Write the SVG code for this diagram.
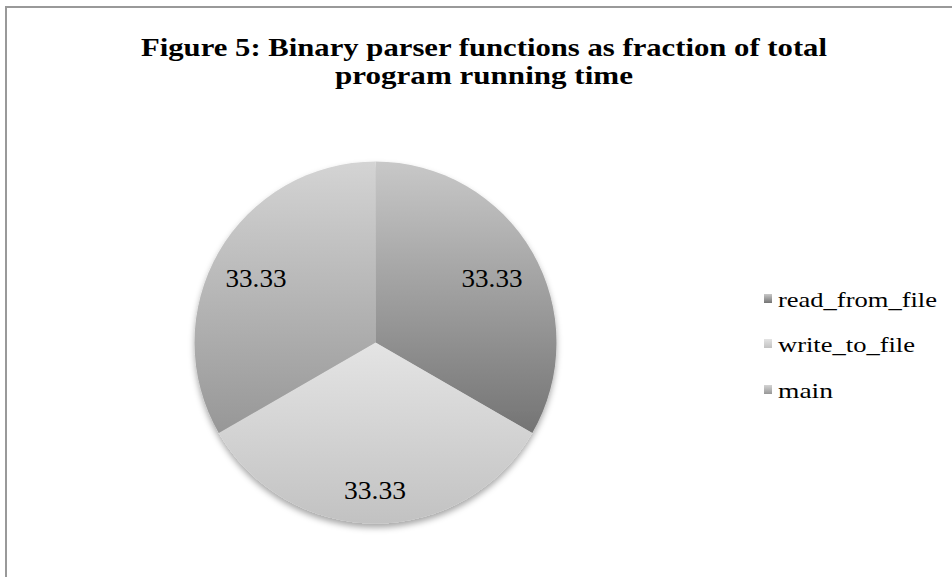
<svg xmlns="http://www.w3.org/2000/svg" width="952" height="577" viewBox="0 0 952 577">
  <style>
    .title { font-family: "Liberation Serif", "Times New Roman", serif; font-weight: bold; font-size: 25px; fill: #000; text-anchor: middle; }
    .val { font-family: "Liberation Serif", "Times New Roman", serif; font-size: 25px; fill: #000; text-anchor: middle; }
    .leg { font-family: "Liberation Serif", "Times New Roman", serif; font-size: 21px; fill: #000; }
  </style>
  <defs>
    <linearGradient id="gRead" x1="0" y1="0" x2="0" y2="1">
      <stop offset="0" stop-color="#c8c8c8"/>
      <stop offset="1" stop-color="#747474"/>
    </linearGradient>
    <linearGradient id="gWrite" x1="0" y1="0" x2="0" y2="1">
      <stop offset="0" stop-color="#e4e4e4"/>
      <stop offset="1" stop-color="#c2c2c2"/>
    </linearGradient>
    <linearGradient id="gMain" x1="0" y1="0" x2="0" y2="1">
      <stop offset="0" stop-color="#d4d4d4"/>
      <stop offset="1" stop-color="#979797"/>
    </linearGradient>
    <filter id="shadow" x="-10%" y="-10%" width="120%" height="125%">
      <feDropShadow dx="0" dy="4" stdDeviation="3" flood-color="#000" flood-opacity="0.35"/>
    </filter>
  </defs>

  <rect width="952" height="577" fill="#fff"/>
  <!-- chart frame (continues past the right and bottom edges) -->
  <rect x="6" y="7" width="970" height="600" fill="none" stroke="#999" stroke-width="2"/>

  <g id="title">
    <text class="title" x="484" y="56" textLength="686" lengthAdjust="spacingAndGlyphs">Figure 5: Binary parser functions as fraction of total</text>
    <text class="title" x="484" y="84" textLength="298" lengthAdjust="spacingAndGlyphs">program running time</text>
  </g>

  <!-- pie: centre (375.5, 342.5), r = 181 -->
  <g id="pie" filter="url(#shadow)">
    <path id="slice-read" d="M375.5,342.5 L375.5,161.5 A181,181 0 0 1 532.25,433 Z" fill="url(#gRead)"/>
    <path id="slice-write" d="M375.5,342.5 L532.25,433 A181,181 0 0 1 218.75,433 Z" fill="url(#gWrite)"/>
    <path id="slice-main" d="M375.5,342.5 L218.75,433 A181,181 0 0 1 375.5,161.5 Z" fill="url(#gMain)"/>
  </g>

  <g id="labels">
    <text class="val" x="492" y="287" textLength="61" lengthAdjust="spacingAndGlyphs">33.33</text>
    <text class="val" x="256" y="287" textLength="61" lengthAdjust="spacingAndGlyphs">33.33</text>
    <text class="val" x="375" y="499" textLength="62" lengthAdjust="spacingAndGlyphs">33.33</text>
  </g>

  <g id="legend">
    <g id="legend-read">
      <rect x="764" y="294" width="8" height="9" fill="url(#gRead)"/>
      <text class="leg" x="778" y="307" textLength="159" lengthAdjust="spacingAndGlyphs">read_from_file</text>
    </g>
    <g id="legend-write">
      <rect x="764" y="339" width="8" height="9" fill="url(#gWrite)"/>
      <text class="leg" x="778" y="352" textLength="137" lengthAdjust="spacingAndGlyphs">write_to_file</text>
    </g>
    <g id="legend-main">
      <rect x="764" y="385" width="8" height="9" fill="url(#gMain)"/>
      <text class="leg" x="778" y="398" textLength="55" lengthAdjust="spacingAndGlyphs">main</text>
    </g>
  </g>
</svg>
